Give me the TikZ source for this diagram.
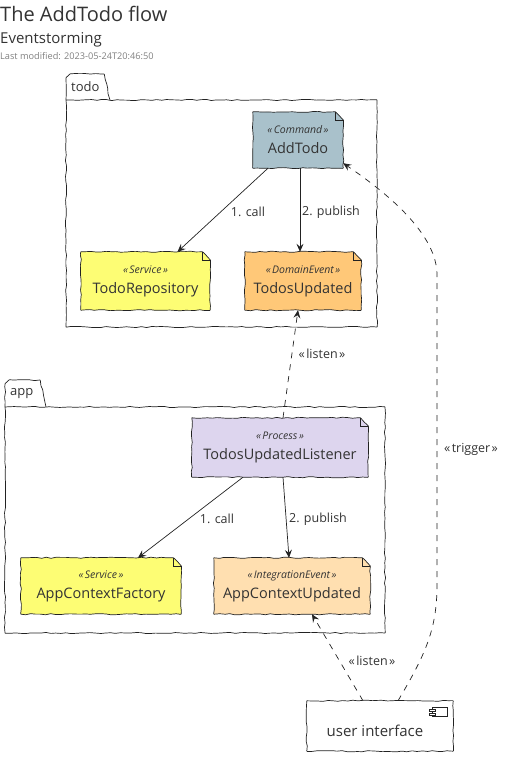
\documentclass[tikz,border=0pt]{standalone}
\usepackage{fontspec}
\setmainfont{Open Sans}
\usetikzlibrary{arrows.meta,decorations.pathmorphing,backgrounds}
\definecolor{ink}{HTML}{222222}
\definecolor{txt}{HTML}{333333}
\definecolor{cmdc}{HTML}{A9C1CB}
\definecolor{svcc}{HTML}{FDFD74}
\definecolor{devc}{HTML}{FFC878}
\definecolor{prcc}{HTML}{DDD5EE}
\definecolor{iecc}{HTML}{FFDFB0}
\tikzset{
  wobble/.style={draw=ink, line width=0.7pt, decorate,
     decoration={random steps, segment length=5pt, amplitude=0.6pt}, rounded corners=0.4pt},
  notetext/.style={text=txt, align=center, inner sep=0pt, font=\fontsize{14.5}{17}\selectfont},
  arr/.style={draw=ink, line width=0.7pt, -{Stealth[length=8pt,width=7pt,inset=3pt]}},
  darr/.style={arr, dash pattern=on 6pt off 6pt},
  lbl/.style={text=txt, inner sep=0pt, font=\fontsize{12.5}{14}\selectfont},
  pkglbl/.style={text=txt, inner sep=0pt, font=\fontsize{13}{15}\selectfont},
}
\newcommand\gql{\guillemotleft\kern1.5pt}
\newcommand\gqr{\kern1.5pt\guillemotright}
\newcommand\stereo[1]{{\fontsize{10.5}{12}\selectfont\itshape\gql#1\gqr}}
% name, cx, cy, w, h, color, stereotype, title
\newcommand\esnote[8]{%
  \node[notetext, minimum width=#4pt, minimum height=#5pt] (#1) at (#2,#3) {\stereo{#7}\\[3pt]#8};
  \begin{scope}[on background layer]
  \draw[wobble, fill=#6] (#1.north west) -- ([xshift=-8pt]#1.north east) -- ([yshift=-8pt]#1.north east) -- (#1.south east) -- (#1.south west) -- cycle;
  \draw[draw=ink, line width=0.5pt] ([xshift=-8pt]#1.north east) -- ([xshift=-8pt,yshift=-8pt]#1.north east) -- ([yshift=-8pt]#1.north east);
  \end{scope}}
\begin{document}
\begin{tikzpicture}[x=1pt,y=-1pt]
\useasboundingbox (0,0) rectangle (513,757);
% titles
\node[anchor=west, text=txt, inner sep=0pt, font=\fontsize{20}{22}\selectfont] (title) at (0,14) {The AddTodo flow};
\node[anchor=west, text=txt, inner sep=0pt, font=\fontsize{15}{17}\selectfont] (sub) at (0,40) {Eventstorming};
\node[anchor=west, text=gray, inner sep=0pt, font=\fontsize{9.2}{11}\selectfont] (mod) at (0,56) {Last modified: 2023-05-24T20:46:50};
% todo package
\draw[wobble] (66,100) -- (66,78) -- (70,74) -- (104,74) -- (110,100);
\draw[wobble] (66,100) rectangle (377,327);
\node[pkglbl, anchor=west] (todo) at (71,87) {todo};
% app package
\draw[wobble] (5,407) -- (5,384) -- (9,380) -- (40,380) -- (46,407);
\draw[wobble] (5,407) rectangle (385,633);
\node[pkglbl, anchor=west] (app) at (10,394) {app};
% notes
\esnote{AddTodo}{298}{140}{90}{56}{cmdc}{Command}{AddTodo}
\esnote{TodoRepo}{145.5}{281}{129}{58}{svcc}{Service}{TodoRepository}
\esnote{TodosUpd}{303}{281}{116}{58}{devc}{DomainEvent}{TodosUpdated}
\esnote{Listener}{280}{447.5}{176}{59}{prcc}{Process}{TodosUpdatedListener}
\esnote{ACFactory}{101}{586}{160}{56}{svcc}{Service}{AppContextFactory}
\esnote{ACUpd}{292}{586}{156}{56}{iecc}{IntegrationEvent}{AppContextUpdated}
% user interface component
\node[inner sep=0pt, minimum width=146pt, minimum height=50pt] (UI) at (380,726) {};
\node[text=txt, inner sep=0pt, font=\fontsize{15}{17}\selectfont] (UItext) at (375,731) {user interface};
\draw[wobble] (UI.north west) rectangle (UI.south east);
\draw[draw=ink, line width=0.6pt, fill=white] (432,707) rectangle (447,716);
\draw[draw=ink, line width=0.6pt, fill=white] (429,709) rectangle (435,711.5);
\draw[draw=ink, line width=0.6pt, fill=white] (429,713) rectangle (435,715.5);
% todo connectors
\draw[arr] ([xshift=-30pt]AddTodo.south) -- ([xshift=32pt]TodoRepo.north);
\node[lbl] (l1) at (248,212) {1. call};
\draw[arr] ([xshift=2pt]AddTodo.south) -- ([xshift=-3pt]TodosUpd.north);
\node[lbl] (l2) at (331,212) {2. publish};
% app connectors
\draw[arr] ([xshift=-37pt]Listener.south) -- ([xshift=37pt]ACFactory.north);
\node[lbl] (l3) at (217,519) {1. call};
\draw[arr] ([xshift=3pt]Listener.south) -- ([xshift=-3pt]ACUpd.north);
\node[lbl] (l4) at (318,519) {2. publish};
% listen / trigger
\draw[darr] ([xshift=3pt]Listener.north) -- ([xshift=-5pt]TodosUpd.south);
\node[lbl] (l5) at (322,354) {\gql listen\gqr};
\draw[darr] ([xshift=-17pt]UI.north) -- ([xshift=20pt]ACUpd.south);
\node[lbl] (l6) at (372,661) {\gql listen\gqr};
\draw[darr] ([xshift=18pt]UI.north) .. controls (425,655) and (437,630) .. (437,585) -- (437,275) .. controls (437,235) and (390,195) .. ([yshift=5pt]AddTodo.south east);
\node[lbl] (l7) at (471,449) {\gql trigger\gqr};
\end{tikzpicture}
\end{document}
